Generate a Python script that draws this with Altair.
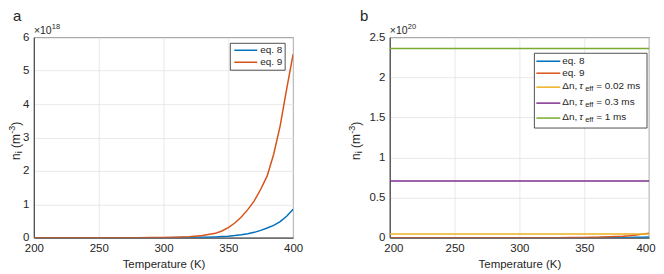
import altair as alt
import pandas as pd

# ---------------- data ----------------
temperature = [200, 220, 240, 260, 280, 290, 300, 310, 320, 330, 340, 345, 350,
               355, 360, 365, 370, 375, 380, 385, 390, 395, 400]
# n_i in units of 1e18 m^-3
eq8_e18 = [0.0, 0.0, 0.00001, 0.00003, 0.0002, 0.0005, 0.0012, 0.003, 0.006,
           0.012, 0.024, 0.033, 0.045, 0.065, 0.09, 0.12, 0.16, 0.22, 0.29,
           0.37, 0.48, 0.64, 0.85]
eq9_e18 = [0.0, 0.00001, 0.00005, 0.0002, 0.001, 0.0025, 0.006, 0.014, 0.03,
           0.065, 0.13, 0.2, 0.3, 0.44, 0.62, 0.84, 1.1, 1.45, 1.85, 2.5, 3.35,
           4.45, 5.5]
# excess carrier density Δn in units of 1e20 m^-3 (constant over T)
dn_tau_labels = ["0.02 ms", "0.3 ms", "1 ms"]
dn_levels_e20 = [0.047, 0.708, 2.36]
t_span = [200, 400]

series_a = ["eq. 8", "eq. 9"]
series_b = ["eq. 8", "eq. 9", "dn 0.02 ms", "dn 0.3 ms", "dn 1 ms"]
colors = ["#0072BD", "#D95319", "#EDB120", "#7E2F8E", "#77AC30"]

x_ticks = [200, 250, 300, 350, 400]
y_ticks_a = [0, 1, 2, 3, 4, 5, 6]
y_ticks_b = [0, 0.5, 1, 1.5, 2, 2.5]

FONT = "Liberation Sans"
TXT = "#262626"

# ---------------- tables ----------------
rows_a = []
for name, vals in zip(series_a, [eq8_e18, eq9_e18]):
    for t, v in zip(temperature, vals):
        rows_a.append({"T": t, "v": v, "s": name})
df_a = pd.DataFrame(rows_a)

rows_b = []
for name, vals in zip(series_a, [eq8_e18, eq9_e18]):
    for t, v in zip(temperature, vals):
        rows_b.append({"T": t, "v": v / 100.0, "s": name})  # 1e18 -> 1e20 units
for lab, lev in zip(dn_tau_labels, dn_levels_e20):
    for t in t_span:
        rows_b.append({"T": t, "v": lev, "s": "dn " + lab})
df_b = pd.DataFrame(rows_b)

one = pd.DataFrame({"k": [0]})


def hline(x1, x2, y, color):
    return alt.Chart(one).mark_rule(color=color, strokeWidth=1.5).encode(
        x=alt.value(x1), x2=alt.value(x2), y=alt.value(y))


def txt(x, y, s, size=10, baseline="middle", **kw):
    return alt.Chart(one).mark_text(
        align="left", baseline=baseline, fontSize=size, font=FONT, color=TXT, **kw
    ).encode(x=alt.value(x), y=alt.value(y), text=alt.value(s))


def rtxt(x, y, s, size):
    return alt.Chart(one).mark_text(
        align="left", baseline="alphabetic", angle=270, fontSize=size, font=FONT, color=TXT
    ).encode(x=alt.value(x), y=alt.value(y), text=alt.value(s))


def box(x1, x2, y1, y2):
    return alt.Chart(one).mark_rect(fill="white", stroke=TXT, strokeWidth=0.8).encode(
        x=alt.value(x1), x2=alt.value(x2), y=alt.value(y1), y2=alt.value(y2))


def y_title(bx):
    # "n_i (m^-3)" rotated, built from pieces (baseline at x = bx)
    y0 = 123
    return [
        rtxt(bx, y0, "n", 12),
        rtxt(bx + 2.5, y0 - 6.7, "i", 9),
        rtxt(bx, y0 - 12.0, "(m", 12),
        rtxt(bx - 4.5, y0 - 26.3, "-3", 9),
        rtxt(bx, y0 - 34.3, ")", 12),
    ]


def multiplier(exp):
    return [
        txt(0, -3, "×10", size=10.5, baseline="alphabetic"),
        txt(18, -8, exp, size=7.5, baseline="alphabetic"),
    ]


W, H = 260, 201

color_scale = alt.Scale(domain=series_b, range=colors)
x_scale = alt.Scale(domain=[200, 400], nice=False, zero=False)

# ---------------- panel a ----------------
lines_a = alt.Chart(df_a).mark_line(strokeWidth=1.5, clip=True).encode(
    x=alt.X("T:Q", scale=x_scale,
            axis=alt.Axis(values=x_ticks, title="Temperature (K)", format="d",
                          labelFlush=False)),
    y=alt.Y("v:Q", scale=alt.Scale(domain=[0, 6], nice=False),
            axis=alt.Axis(values=y_ticks_a, title=None)),
    color=alt.Color("s:N", scale=color_scale, legend=None),
)

panel_a = alt.layer(
    lines_a,
    box(197, 252, 6, 33),
    hline(201, 224, 13, colors[0]), txt(227, 13, series_a[0]),
    hline(201, 224, 25, colors[1]), txt(227, 25, series_a[1]),
    *multiplier("18"),
    *y_title(-14),
    txt(-21, -16, "a", size=15, baseline="alphabetic"),
).properties(width=W, height=H)

# ---------------- panel b ----------------
lines_b = alt.Chart(df_b).mark_line(strokeWidth=1.5, clip=True).encode(
    x=alt.X("T:Q", scale=x_scale,
            axis=alt.Axis(values=x_ticks, title="Temperature (K)", format="d",
                          labelFlush=True, labelFlushOffset=6)),
    y=alt.Y("v:Q", scale=alt.Scale(domain=[0, 2.5], nice=False),
            axis=alt.Axis(values=y_ticks_b, title=None, format=".1~f")),
    color=alt.Color("s:N", scale=color_scale, legend=None),
)

lx = -2
leg_b = [
    box(147 + lx, 260 + lx, 16, 91),
    hline(149 + lx, 173 + lx, 24, colors[0]), txt(175 + lx, 24, "eq. 8"),
    hline(149 + lx, 173 + lx, 36, colors[1]), txt(175 + lx, 36, "eq. 9"),
]
for i, (lab, yy) in enumerate(zip(dn_tau_labels, [50, 66, 81])):
    leg_b += [
        hline(149 + lx, 173 + lx, yy, colors[2 + i]),
        txt(175 + lx, yy - 1, "Δn,"),
        txt(192 + lx, yy - 1, "τ", fontStyle="italic"),
        txt(198 + lx, yy + 2, "eff", size=7.5),
        txt(209 + lx, yy - 1, "= " + lab),
    ]

panel_b = alt.layer(
    lines_b, *leg_b,
    *multiplier("20"),
    *y_title(-30),
    txt(-30, -16, "b", size=15, baseline="alphabetic"),
).properties(width=W, height=H)

chart = alt.hconcat(panel_a, panel_b, spacing=97, bounds="flush").resolve_scale(
    color="shared"
).properties(
    padding={"left": 0, "top": 0, "right": 0, "bottom": 0}
).configure_view(
    stroke=TXT, strokeWidth=0.8
).configure_axis(
    labelFont=FONT, labelFontSize=11.5, labelColor=TXT,
    titleFont=FONT, titleFontSize=11.5, titleFontWeight="normal", titleColor=TXT,
    domainColor=TXT, domainWidth=0.8,
    gridColor="#e3e3e3", gridWidth=0.8,
    ticks=False, labelPadding=5,
).configure_axisX(
    titlePadding=4, labelPadding=5,
)

chart.save("out.html", embed_options={"renderer": "svg", "actions": False})
